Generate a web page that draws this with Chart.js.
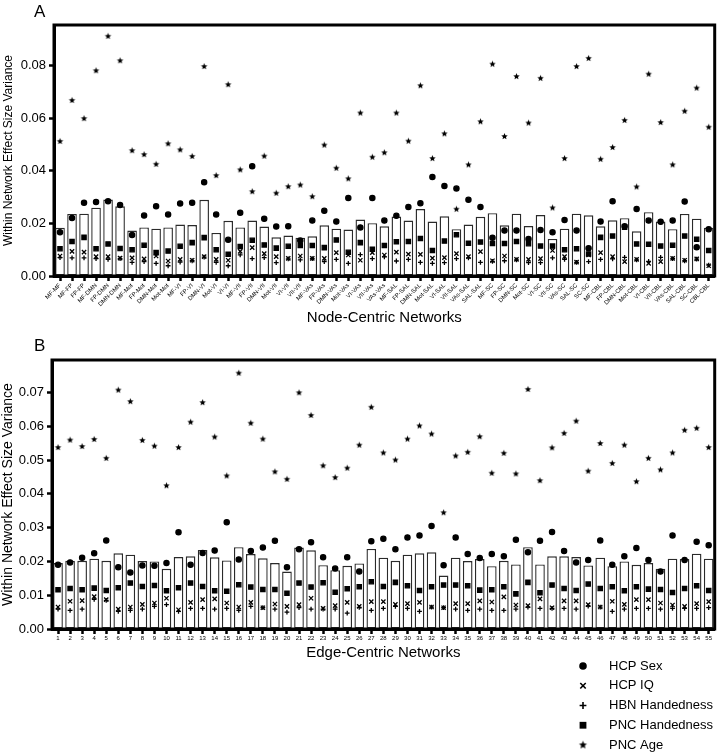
<!DOCTYPE html>
<html>
<head>
<meta charset="utf-8">
<script src="https://cdn.jsdelivr.net/npm/chart.js@4.4.0/dist/chart.umd.min.js"></script>
<style>
  body { margin: 0; background: #fff; }
  #wrap { position: relative; width: 719px; height: 753px; }
  canvas { position: absolute; left: 0; }
  #chartNodos { top: 0; }
  #chartAristas { top: 335px; }
</style>
</head>
<body>
<div id="wrap">
  <canvas id="chartNodos" width="719" height="335"></canvas>
  <canvas id="chartAristas" width="719" height="418"></canvas>
</div>
<script>
// --- Datos ---

// Panel A: redes centradas en nodos
const etiquetasNodos = ["MF-MF","MF-FP","FP-FP","MF-DMN","FP-DMN","DMN-DMN","MF-Mot","FP-Mot","DMN-Mot","Mot-Mot",
  "MF-VI","FP-VI","DMN-VI","Mot-VI","VI-VI","MF-VII","FP-VII","DMN-VII","Mot-VII","VI-VII",
  "VII-VII","MF-VAs","FP-VAs","DMN-VAs","Mot-VAs","VI-VAs","VII-VAs","VAs-VAs","MF-SAL","FP-SAL",
  "DMN-SAL","Mot-SAL","VI-SAL","VII-SAL","VAs-SAL","SAL-SAL","MF-SC","FP-SC","DMN-SC","Mot-SC",
  "VI-SC","VII-SC","VAs-SC","SAL-SC","SC-SC","MF-CBL","FP-CBL","DMN-CBL","Mot-CBL","VI-CBL",
  "VII-CBL","VAs-CBL","SAL-CBL","SC-CBL","CBL-CBL"];
const barrasNodos = [.0184,.0236,.0237,.0260,.0291,.0265,.0173,.0185,.0180,.0185,
  .0196,.0194,.0290,.0164,.0210,.0185,.0211,.0188,.0147,.0154,
  .0146,.0151,.0193,.0180,.0177,.0215,.0201,.0189,.0226,.0211,
  .0255,.0207,.0227,.0178,.0196,.0225,.0239,.0193,.0237,.0190,
  .0232,.0141,.0180,.0237,.0231,.0189,.0212,.0220,.0170,.0243,
  .0207,.0178,.0236,.0218,.0184];
const hcpSexoNodos = [.0166,.0221,.0279,.0282,.0284,.0270,.0156,.0230,.0265,.0234,
  .0276,.0279,.0357,.0234,.0138,.0241,.0418,.0218,.0188,.0189,
  .0135,.0211,.0248,.0207,.0297,.0185,.0297,.0211,.0229,.0263,
  .0277,.0377,.0342,.0333,.0290,.0263,.0146,.0173,.0173,.0141,
  .0175,.0166,.0213,.0173,.0106,.0207,.0284,.0189,.0255,.0211,
  .0206,.0211,.0283,.0109,.0178];
const hcpIqNodos = [.0076,.0094,.0091,.0074,.0074,.0068,.0069,.0065,.0076,.0057,
  .0063,.0060,.0074,.0063,.0060,.0094,.0108,.0085,.0074,.0067,
  .0076,.0067,.0067,.0089,.0080,.0060,.0089,.0080,.0091,.0083,
  .0082,.0068,.0070,.0085,.0074,.0093,.0058,.0076,.0063,.0063,
  .0066,.0097,.0074,.0053,.0080,.0089,.0074,.0055,.0063,.0048,
  .0055,.0067,.0060,.0065,.0039];
const hbnManoNodos = [.0070,.0069,.0069,.0066,.0063,.0066,.0052,.0055,.0048,.0039,
  .0053,.0058,.0072,.0052,.0039,.0080,.0066,.0070,.0051,.0065,
  .0061,.0066,.0055,.0063,.0048,.0081,.0066,.0073,.0057,.0063,
  .0052,.0048,.0051,.0066,.0069,.0052,.0056,.0058,.0061,.0051,
  .0051,.0069,.0063,.0052,.0055,.0063,.0065,.0071,.0061,.0056,
  .0071,.0066,.0058,.0064,.0041];
const pncManoNodos = [.0104,.0131,.0147,.0104,.0122,.0105,.0100,.0117,.0089,.0095,
  .0113,.0127,.0146,.0100,.0083,.0112,.0136,.0118,.0106,.0113,
  .0116,.0116,.0108,.0137,.0090,.0127,.0102,.0116,.0130,.0131,
  .0143,.0097,.0133,.0157,.0125,.0129,.0124,.0124,.0131,.0123,
  .0114,.0114,.0100,.0104,.0084,.0147,.0152,.0186,.0122,.0121,
  .0114,.0117,.0152,.0140,.0097];
const pncEdadNodos = [.0512,.0668,.0599,.0781,.0912,.0819,.0477,.0462,.0425,.0503,
  .0480,.0455,.0797,.0382,.0728,.0404,.0321,.0456,.0315,.0340,
  .0346,.0302,.0498,.0410,.0370,.0620,.0452,.0469,.0620,.0513,
  .0724,.0447,.0541,.0254,.0423,.0587,.0806,.0531,.0759,.0582,
  .0752,.0259,.0447,.0797,.0828,.0444,.0489,.0592,.0339,.0768,
  .0584,.0423,.0627,.0715,.0566];

// Panel B: redes centradas en aristas
const etiquetasAristas = ["1","2","3","4","5","6","7","8","9","10","11","12","13","14","15","16","17","18","19","20",
  "21","22","23","24","25","26","27","28","29","30","31","32","33","34","35","36","37","38","39","40",
  "41","42","43","44","45","46","47","48","49","50","51","52","53","54","55"];
const barrasAristas = [.0195,.0202,.0202,.0208,.0202,.0224,.0220,.0201,.0200,.0178,
  .0213,.0215,.0234,.0212,.0203,.0242,.0222,.0209,.0195,.0170,
  .0241,.0233,.0189,.0174,.0187,.0194,.0237,.0211,.0202,.0220,
  .0224,.0227,.0158,.0211,.0201,.0207,.0186,.0202,.0191,.0242,
  .0191,.0215,.0215,.0213,.0188,.0211,.0186,.0200,.0190,.0195,
  .0178,.0208,.0207,.0223,.0208];
const hcpSexoAristas = [.0190,.0197,.0211,.0224,.0262,.0183,.0167,.0188,.0187,.0195,
  .0286,.0190,.0225,.0232,.0316,.0206,.0231,.0241,.0261,.0183,
  .0236,.0257,.0212,.0179,.0212,.0170,.0260,.0267,.0236,.0271,
  .0277,.0305,.0189,.0271,.0222,.0210,.0222,.0215,.0264,.0227,
  .0261,.0287,.0231,.0197,.0204,.0262,.0190,.0215,.0240,.0204,
  .0170,.0277,.0204,.0258,.0248];
const hcpIqAristas = [.0065,.0082,.0084,.0096,.0087,.0059,.0065,.0073,.0077,.0091,
  .0057,.0079,.0087,.0089,.0077,.0065,.0079,.0063,.0074,.0067,
  .0072,.0091,.0061,.0069,.0079,.0067,.0081,.0081,.0073,.0075,
  .0079,.0065,.0063,.0075,.0075,.0083,.0080,.0095,.0071,.0069,
  .0089,.0063,.0083,.0083,.0072,.0065,.0082,.0073,.0087,.0087,
  .0077,.0071,.0067,.0075,.0081];
const hbnManoAristas = [.0059,.0055,.0059,.0088,.0085,.0052,.0055,.0059,.0067,.0072,
  .0052,.0061,.0061,.0059,.0061,.0055,.0067,.0063,.0059,.0050,
  .0063,.0059,.0059,.0059,.0047,.0064,.0055,.0061,.0067,.0061,
  .0052,.0065,.0063,.0059,.0055,.0059,.0055,.0055,.0059,.0065,
  .0061,.0061,.0061,.0059,.0068,.0065,.0052,.0059,.0061,.0061,
  .0059,.0061,.0061,.0061,.0063];
const pncManoAristas = [.0116,.0120,.0116,.0121,.0114,.0122,.0136,.0126,.0129,.0113,
  .0122,.0136,.0126,.0113,.0112,.0131,.0124,.0117,.0117,.0106,
  .0136,.0124,.0137,.0109,.0119,.0125,.0140,.0126,.0138,.0128,
  .0114,.0125,.0130,.0130,.0128,.0115,.0116,.0125,.0104,.0138,
  .0107,.0130,.0120,.0114,.0133,.0120,.0125,.0113,.0125,.0118,
  .0117,.0108,.0120,.0128,.0114];
const pncEdadAristas = [.0537,.0559,.0540,.0561,.0505,.0707,.0673,.0558,.0541,.0424,
  .0537,.0612,.0670,.0568,.0453,.0757,.0609,.0562,.0465,.0443,
  .0699,.0632,.0483,.0448,.0476,.0544,.0656,.0521,.0500,.0562,
  .0601,.0577,.0344,.0512,.0523,.0569,.0461,.0520,.0459,.0709,
  .0439,.0536,.0579,.0615,.0467,.0549,.0490,.0544,.0436,.0505,
  .0471,.0521,.0588,.0594,.0537];

const nombresSeries = ["HCP Sex", "HCP IQ", "HBN Handedness", "PNC Handedness", "PNC Age"];

// --- Utilidades de dibujo ---
const fuente = "'Liberation Sans', Arial, sans-serif";

function crearEstrella(r) {
  const c = document.createElement("canvas");
  const s = Math.ceil(r * 2 + 2);
  c.width = s; c.height = s;
  const g = c.getContext("2d");
  g.fillStyle = "#000";
  g.beginPath();
  for (let i = 0; i < 10; i++) {
    const ang = -Math.PI / 2 + i * Math.PI / 5;
    const rr = i % 2 === 0 ? r : r * 0.45;
    g.lineTo(s / 2 + rr * Math.cos(ang), s / 2 + rr * Math.sin(ang));
  }
  g.closePath();
  g.fill();
  return c;
}
const estrella = crearEstrella(3.4);
const estrellaLeyenda = crearEstrella(4.2);

function dibujarMarcador(ctx, estilo, x, y, r) {
  ctx.save();
  ctx.fillStyle = "#000";
  ctx.strokeStyle = "#000";
  ctx.lineWidth = 1.6;
  ctx.beginPath();
  if (estilo === "circle") {
    ctx.arc(x, y, r, 0, Math.PI * 2);
    ctx.fill();
  } else if (estilo === "rect") {
    ctx.fillRect(x - r, y - r, r * 2, r * 2);
  } else if (estilo === "crossRot") {
    const d = r * 0.8;
    ctx.moveTo(x - d, y - d); ctx.lineTo(x + d, y + d);
    ctx.moveTo(x + d, y - d); ctx.lineTo(x - d, y + d);
    ctx.stroke();
  } else if (estilo === "cross") {
    ctx.moveTo(x - r, y); ctx.lineTo(x + r, y);
    ctx.moveTo(x, y - r); ctx.lineTo(x, y + r);
    ctx.stroke();
  } else {
    ctx.drawImage(estrellaLeyenda, x - estrellaLeyenda.width / 2, y - estrellaLeyenda.height / 2);
  }
  ctx.restore();
}

// Marco negro alrededor del área del gráfico
const pluginMarco = {
  id: "marco",
  afterDatasetsDraw(chart) {
    const { ctx, chartArea: a } = chart;
    ctx.save();
    ctx.strokeStyle = "#000";
    ctx.lineWidth = 3;
    ctx.strokeRect(a.left, a.top, a.right - a.left, a.bottom - a.top);
    ctx.restore();
  }
};

// Letra del panel (A / B)
const pluginLetra = {
  id: "letra",
  afterDraw(chart, args, opts) {
    const ctx = chart.ctx;
    ctx.save();
    ctx.fillStyle = "#000";
    ctx.font = "17px " + fuente;
    ctx.textBaseline = "top";
    ctx.fillText(opts.texto, 34, opts.y);
    ctx.restore();
  }
};

// Leyenda vertical abajo a la derecha
const pluginLeyenda = {
  id: "leyenda",
  afterDraw(chart, args, opts) {
    if (!opts.mostrar) return;
    const ctx = chart.ctx;
    const puntos = chart.data.datasets.filter(d => d.type === "line");
    ctx.save();
    ctx.font = "13px " + fuente;
    ctx.fillStyle = "#000";
    ctx.textBaseline = "middle";
    puntos.forEach((d, i) => {
      const y = opts.y0 + i * opts.paso;
      const estilo = typeof d.pointStyle === "string" ? d.pointStyle : "star";
      const r = estilo === "rect" ? 3.4 : (estilo === "circle" ? 3.8 : 3.4);
      dibujarMarcador(ctx, estilo, opts.x, y, r);
      ctx.fillText(d.label, opts.x + 26, y);
    });
    ctx.restore();
  }
};

function serie(label, data, estilo, radio, orden) {
  return {
    type: "line",
    label,
    data,
    showLine: false,
    pointStyle: estilo,
    pointRadius: radio,
    pointHoverRadius: radio,
    pointBackgroundColor: "#000",
    pointBorderColor: "#000",
    pointBorderWidth: 1.3,
    order: orden
  };
}

function crearPanel(idCanvas, p) {
  const ctx = document.getElementById(idCanvas).getContext("2d");
  return new Chart(ctx, {
    type: "bar",
    data: {
      labels: p.etiquetas,
      datasets: [
        {
          type: "bar",
          label: "Mean",
          data: p.barras,
          backgroundColor: "#fff",
          borderColor: "#2a2a2a",
          borderWidth: 1.4,
          borderSkipped: false,
          barPercentage: 0.8,
          categoryPercentage: 1,
          order: 10
        },
        serie(nombresSeries[0], p.sexo, "circle", 2.6, 1),
        serie(nombresSeries[1], p.iq, "crossRot", 3.0, 2),
        serie(nombresSeries[2], p.hbn, "cross", 2.4, 3),
        serie(nombresSeries[3], p.pncMano, "rect", 3.0, 4),
        serie(nombresSeries[4], p.pncEdad, estrella, 3, 5)
      ]
    },
    plugins: [pluginMarco, pluginLetra, pluginLeyenda],
    options: {
      responsive: false,
      animation: false,
      layout: { padding: { top: p.arriba, right: 2, bottom: p.abajo, left: 0 } },
      plugins: {
        legend: { display: false },
        tooltip: { enabled: false },
        letra: { texto: p.letra, y: p.letraY },
        leyenda: { mostrar: p.leyenda, x: 583, y0: 331, paso: 19.75 }
      },
      scales: {
        x: {
          grid: { display: true, drawOnChartArea: false, offset: false, tickLength: 5, tickWidth: 2.5, tickColor: "#000" },
          border: { display: true, color: "#000", width: 3 },
          ticks: {
            autoSkip: false, maxRotation: p.rotacion, minRotation: p.rotacion, padding: 1,
            color: "#000", font: { family: fuente, size: 6 }
          },
          title: {
            display: true, text: p.tituloX, color: "#000",
            font: { family: fuente, size: 15 }, padding: { top: 2, bottom: 4 }
          },
          afterFit(s) { s.height = p.altoX; s.paddingLeft = 0; s.paddingRight = 0; }
        },
        y: {
          min: 0,
          max: p.yMax,
          ticks: {
            stepSize: p.pasoY, includeBounds: false, color: "#000", padding: 3,
            font: { family: fuente, size: 13 },
            callback: v => v.toFixed(2)
          },
          grid: { display: true, drawOnChartArea: false, tickLength: 5, tickWidth: 2.5, tickColor: "#000" },
          border: { display: true, color: "#000", width: 3 },
          title: {
            display: true, text: "Within Network Effect Size Variance", color: "#000",
            font: { family: fuente, size: p.tamTituloY }, padding: { top: p.padTituloY, bottom: 0 }
          },
          afterFit(s) { s.width = p.anchoY; }
        }
      }
    }
  });
}

crearPanel("chartNodos", {
  etiquetas: etiquetasNodos, barras: barrasNodos, sexo: hcpSexoNodos, iq: hcpIqNodos,
  hbn: hbnManoNodos, pncMano: pncManoNodos, pncEdad: pncEdadNodos,
  letra: "A", letraY: 4, leyenda: false,
  arriba: 25, abajo: 4, altoX: 55, anchoY: 54, rotacion: 45,
  yMax: 0.0955, pasoY: 0.02, tamTituloY: 12, padTituloY: 1,
  tituloX: "Node-Centric Networks"
});

crearPanel("chartAristas", {
  etiquetas: etiquetasAristas, barras: barrasAristas, sexo: hcpSexoAristas, iq: hcpIqAristas,
  hbn: hbnManoAristas, pncMano: pncManoAristas, pncEdad: pncEdadAristas,
  letra: "B", letraY: 3, leyenda: true,
  arriba: 25, abajo: 87, altoX: 37, anchoY: 52, rotacion: 0,
  yMax: 0.0796, pasoY: 0.01, tamTituloY: 14, padTituloY: 0,
  tituloX: "Edge-Centric Networks"
});
</script>
</body>
</html>
